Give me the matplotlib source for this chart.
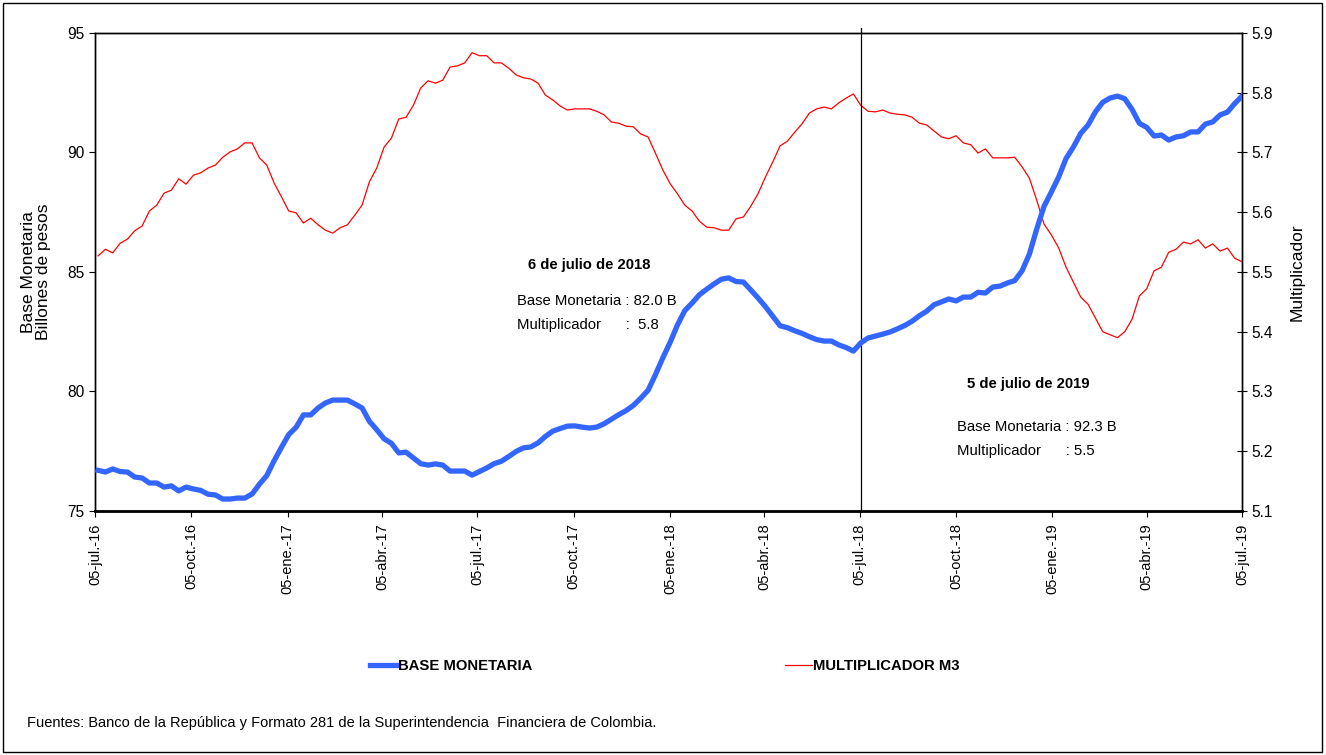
import matplotlib
matplotlib.use('Agg')
import matplotlib.pyplot as plt
from matplotlib import font_manager
from matplotlib.lines import Line2D
from matplotlib.patches import Rectangle
import pandas as pd

# fuente estrecha si existe, si no Liberation Sans un poco mas chica
nombres = {f.name for f in font_manager.fontManager.ttflist}
if 'Liberation Sans Narrow' in nombres:
    fuente = ['Liberation Sans Narrow', 'DejaVu Sans']
    esc = 1.0
else:
    fuente = ['Liberation Sans', 'DejaVu Sans']
    esc = 0.86
plt.rcParams['font.family'] = fuente

# viernes semanales, 8-jul-2016 a 5-jul-2019
fechas = pd.date_range('2016-07-08', periods=157, freq='7D')

base_monetaria = [
    76.70, 76.63, 76.76, 76.65, 76.63, 76.42, 76.38, 76.17, 76.17, 76.00,
    76.05, 75.84, 76.00, 75.92, 75.86, 75.70, 75.67, 75.50, 75.50, 75.54,
    75.54, 75.71, 76.12, 76.48, 77.10, 77.66, 78.20, 78.50, 79.02, 79.02,
    79.31, 79.52, 79.64, 79.64, 79.64, 79.48, 79.31, 78.75, 78.40, 78.02,
    77.83, 77.43, 77.46, 77.22, 76.98, 76.92, 76.97, 76.92, 76.67, 76.67,
    76.67, 76.50, 76.65, 76.80, 76.98, 77.08, 77.28, 77.49, 77.64, 77.68,
    77.85, 78.12, 78.34, 78.45, 78.55, 78.56, 78.51, 78.47, 78.51, 78.65,
    78.84, 79.03, 79.20, 79.42, 79.72, 80.05, 80.70, 81.40, 82.05, 82.78,
    83.38, 83.70, 84.05, 84.28, 84.50, 84.70, 84.75, 84.60, 84.58, 84.25,
    83.91, 83.55, 83.15, 82.75, 82.67, 82.54, 82.43, 82.29, 82.17, 82.11,
    82.11, 81.95, 81.84, 81.69, 82.03, 82.24, 82.32, 82.40, 82.49, 82.62,
    82.76, 82.94, 83.17, 83.36, 83.63, 83.75, 83.87, 83.79, 83.95, 83.95,
    84.15, 84.12, 84.37, 84.41, 84.54, 84.64, 85.05, 85.75, 86.80, 87.75,
    88.35, 88.98, 89.75, 90.23, 90.80, 91.15, 91.70, 92.10, 92.28, 92.36,
    92.25, 91.80, 91.22, 91.05, 90.69, 90.73, 90.52, 90.65, 90.70, 90.86,
    90.86, 91.19, 91.28, 91.57, 91.69, 92.05, 92.36,
]

multiplicador = [
    5.527, 5.538, 5.532, 5.548, 5.555, 5.569, 5.577, 5.602, 5.612, 5.632,
    5.637, 5.656, 5.647, 5.662, 5.666, 5.674, 5.679, 5.692, 5.701, 5.706,
    5.716, 5.716, 5.691, 5.679, 5.649, 5.626, 5.602, 5.599, 5.582, 5.590,
    5.579, 5.570, 5.565, 5.574, 5.579, 5.595, 5.612, 5.651, 5.674, 5.709,
    5.724, 5.756, 5.759, 5.779, 5.808, 5.820, 5.816, 5.821, 5.843, 5.845,
    5.850, 5.867, 5.862, 5.862, 5.850, 5.850, 5.841, 5.830, 5.825, 5.823,
    5.816, 5.796, 5.788, 5.778, 5.771, 5.773, 5.773, 5.773, 5.769, 5.763,
    5.751, 5.749, 5.744, 5.743, 5.731, 5.726, 5.699, 5.671, 5.648, 5.631,
    5.612, 5.602, 5.585, 5.575, 5.574, 5.570, 5.570, 5.589, 5.592, 5.610,
    5.631, 5.659, 5.684, 5.711, 5.719, 5.734, 5.748, 5.766, 5.773, 5.776,
    5.773, 5.783, 5.791, 5.798, 5.779, 5.769, 5.768, 5.771, 5.766, 5.764,
    5.763, 5.759, 5.749, 5.746, 5.736, 5.726, 5.723, 5.728, 5.716, 5.713,
    5.699, 5.706, 5.691, 5.691, 5.691, 5.692, 5.676, 5.657, 5.620, 5.580,
    5.562, 5.540, 5.508, 5.483, 5.458, 5.446, 5.423, 5.400, 5.395, 5.390,
    5.400, 5.421, 5.460, 5.472, 5.502, 5.508, 5.533, 5.538, 5.550, 5.547,
    5.554, 5.540, 5.547, 5.535, 5.540, 5.523, 5.517,
]

ticks_x = pd.date_range('2016-07-01', '2019-07-01', freq='3MS') + pd.Timedelta(days=4)
meses = {1: 'ene.', 4: 'abr.', 7: 'jul.', 10: 'oct.'}
etiquetas_x = ['05-%s-%s' % (meses[d.month], d.strftime('%y')) for d in ticks_x]

fs = 12.5 * esc

fig = plt.figure(figsize=(13.26, 7.55), dpi=100)
ax = fig.add_axes([0.0716, 0.3232, 0.8651, 0.6331])
ax2 = ax.twinx()

ax.plot(fechas, base_monetaria, color='#3366ff', lw=3.8, solid_joinstyle='round', zorder=3)
ax2.plot(fechas, multiplicador, color='#ff0000', lw=0.9)
ax.set_zorder(ax2.get_zorder() + 1)
ax.patch.set_visible(False)

ax.set_xlim(pd.Timestamp('2016-07-05'), pd.Timestamp('2019-07-05'))
ax.set_ylim(75, 95)
ax.set_yticks([75, 80, 85, 90, 95])
ax2.set_ylim(5.1, 5.9)
ax2.set_yticks([5.1, 5.2, 5.3, 5.4, 5.5, 5.6, 5.7, 5.8, 5.9])
ax2.set_yticklabels(['5.1', '5.2', '5.3', '5.4', '5.5', '5.6', '5.7', '5.8', '5.9'])

ax.set_xticks(ticks_x)
ax.set_xticklabels(etiquetas_x, rotation=90, fontsize=10.5,
                   family=['Liberation Sans', 'DejaVu Sans'])
ax.tick_params(axis='y', labelsize=13 * esc, direction='out', length=4)
ax.tick_params(axis='x', direction='out', length=4, pad=5)
ax2.tick_params(axis='y', labelsize=13 * esc, direction='inout', length=7)

for a in (ax, ax2):
    for s in a.spines.values():
        s.set_linewidth(1.0)
ax.spines['bottom'].set_linewidth(2.0)

ax.axvline(pd.Timestamp('2018-07-06'), ymin=0, ymax=1.01, color='black', lw=0.9, clip_on=False)

ax.set_ylabel('Base Monetaria\nBillones de pesos', fontsize=12.5,
              family=['Liberation Sans', 'DejaVu Sans'], labelpad=12, linespacing=0.95)
ax2.set_ylabel('Multiplicador', fontsize=12.5, family=['Liberation Sans', 'DejaVu Sans'],
               rotation=90, labelpad=12)

# anotaciones
fig.text(0.398, 0.649, '6 de julio de 2018', fontsize=fs, fontweight='bold', va='center')
fig.text(0.390, 0.601, 'Base Monetaria : 82.0 B', fontsize=fs, va='center')
fig.text(0.390, 0.569, 'Multiplicador      :  5.8', fontsize=fs, va='center')
fig.text(0.729, 0.491, '5 de julio de 2019', fontsize=fs, fontweight='bold', va='center')
fig.text(0.722, 0.435, 'Base Monetaria : 92.3 B', fontsize=fs, va='center')
fig.text(0.722, 0.402, 'Multiplicador      : 5.5', fontsize=fs, va='center')

# leyenda, una entrada por serie
h1 = Line2D([], [], color='#3366ff', lw=3.8)
h2 = Line2D([], [], color='#ff0000', lw=0.9)
leg1 = fig.legend([h1], ['BASE MONETARIA'], loc='center left', bbox_to_anchor=(0.279, 0.118),
                  frameon=False, handlelength=1.8, handletextpad=0.1, borderpad=0,
                  borderaxespad=0, prop={'weight': 'bold', 'size': fs})
leg2 = fig.legend([h2], ['MULTIPLICADOR M3'], loc='center left', bbox_to_anchor=(0.592, 0.118),
                  frameon=False, handlelength=1.8, handletextpad=0.1, borderpad=0,
                  borderaxespad=0, prop={'weight': 'bold', 'size': fs})

fig.text(0.020, 0.043, 'Fuentes: Banco de la República y Formato 281 de la Superintendencia  '
         'Financiera de Colombia.', fontsize=12.2 * esc, va='center')

fig.patches.append(Rectangle((0.002, 0.004), 0.995, 0.992, transform=fig.transFigure,
                             fill=False, edgecolor='black', lw=1.0))

fig.savefig('out.png', dpi=100)
